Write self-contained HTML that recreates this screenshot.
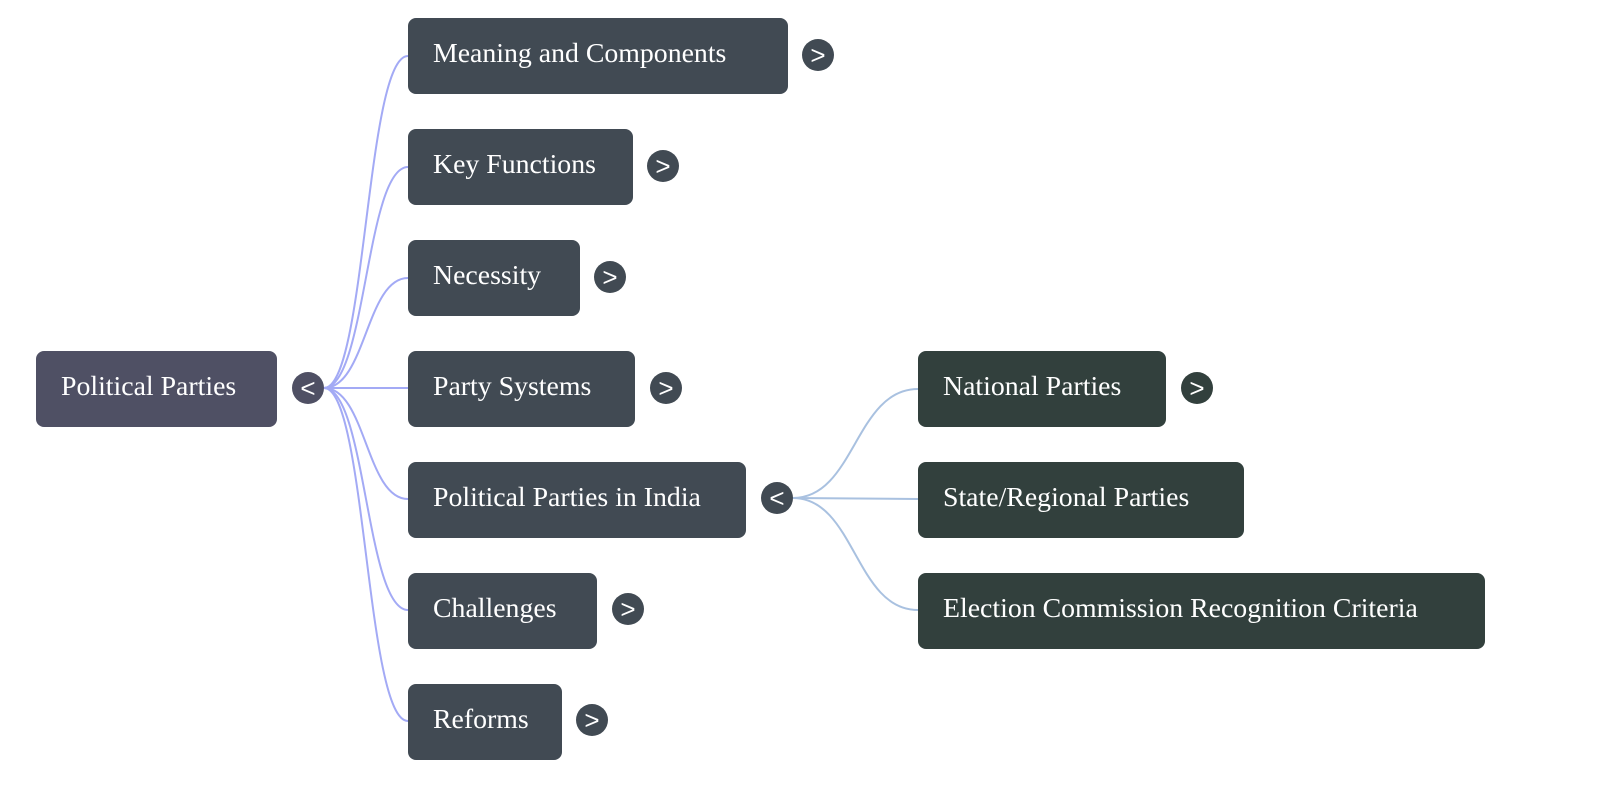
<!DOCTYPE html>
<html><head><style>
body{margin:0;width:1600px;height:793px;background:#fff;position:relative;overflow:hidden;font-family:"Liberation Serif",serif}
.n{position:absolute;height:76px;border-radius:8px;color:#fff;font-size:27.8px;line-height:72px;padding-left:25px;box-sizing:border-box;white-space:nowrap}
.c{background:#414a53}.g{background:#32403d}.r{background:#4f5064}
.t{position:absolute;width:32px;height:32px;border-radius:50%;color:#fff;font-family:"Liberation Sans",sans-serif;font-size:26px;line-height:32px;text-align:center;background:#414a53}
</style></head><body>
<svg width="1600" height="793" style="position:absolute;left:0;top:0" fill="none">
<g stroke="#a3aaf5" stroke-width="2">
<path d="M324 388 C366 388 366 56 408 56"/>
<path d="M324 388 C366 388 366 167 408 167"/>
<path d="M324 388 C366 388 366 278 408 278"/>
<path d="M324 388 L408 388"/>
<path d="M324 388 C366 388 366 499 408 499"/>
<path d="M324 388 C366 388 366 610 408 610"/>
<path d="M324 388 C366 388 366 721 408 721"/>
</g>
<g stroke="#a9c1e0" stroke-width="2">
<path d="M793 498 C855 498 855 389 918 389"/>
<path d="M793 498 L918 499"/>
<path d="M793 498 C855 498 855 610 918 610"/>
</g>
</svg>
<div class="n r" style="left:36px;top:351px;width:241px">Political Parties</div>
<div class="t" style="left:292px;top:372px;background:#4f5064">&lt;</div>
<div class="n c" style="left:408px;top:18px;width:380px">Meaning and Components</div>
<div class="t" style="left:802px;top:39px">&gt;</div>
<div class="n c" style="left:408px;top:129px;width:225px">Key Functions</div>
<div class="t" style="left:647px;top:150px">&gt;</div>
<div class="n c" style="left:408px;top:240px;width:172px">Necessity</div>
<div class="t" style="left:594px;top:261px">&gt;</div>
<div class="n c" style="left:408px;top:351px;width:227px">Party Systems</div>
<div class="t" style="left:650px;top:372px">&gt;</div>
<div class="n c" style="left:408px;top:462px;width:338px">Political Parties in India</div>
<div class="t" style="left:761px;top:482px">&lt;</div>
<div class="n c" style="left:408px;top:573px;width:189px">Challenges</div>
<div class="t" style="left:612px;top:593px">&gt;</div>
<div class="n c" style="left:408px;top:684px;width:154px">Reforms</div>
<div class="t" style="left:576px;top:704px">&gt;</div>
<div class="n g" style="left:918px;top:351px;width:248px">National Parties</div>
<div class="t" style="left:1181px;top:372px;background:#32403d">&gt;</div>
<div class="n g" style="left:918px;top:462px;width:326px">State/Regional Parties</div>
<div class="n g" style="left:918px;top:573px;width:567px">Election Commission Recognition Criteria</div>
</body></html>
